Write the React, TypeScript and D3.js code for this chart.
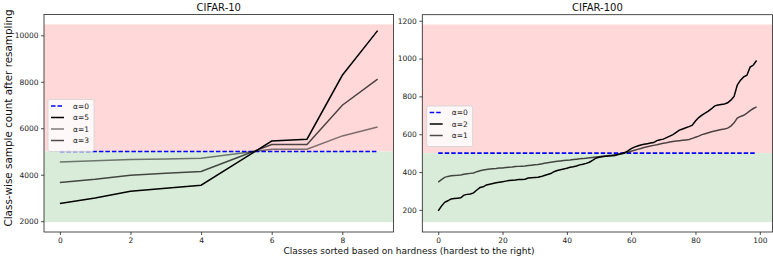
import React, { useEffect, useRef } from 'react';
import * as d3 from 'd3';

// CIFAR-10 (10 classes, sorted by hardness)
const c10Classes = [0, 1, 2, 3, 4, 5, 6, 7, 8, 9];
const c10Alpha0 = [5000, 5000, 5000, 5000, 5000, 5000, 5000, 5000, 5000, 5000];
const c10Alpha5 = [2760, 3000, 3290, 3420, 3550, 4500, 5450, 5530, 8280, 10200];
const c10Alpha1 = [4550, 4600, 4650, 4680, 4710, 4900, 5100, 5100, 5670, 6050];
const c10Alpha3 = [3660, 3800, 3980, 4060, 4140, 4720, 5300, 5300, 6990, 8110];
const c10XTicks = [0, 2, 4, 6, 8];
const c10YTicks = [2000, 4000, 6000, 8000, 10000];
const c10Bands = [1960, 5000, 10470];

// CIFAR-100 (100 classes, sorted by hardness)
const c100Alpha2 = [
  195, 220, 240, 248, 258, 260, 262, 264, 278, 282,
  284, 290, 305, 318, 322, 332, 336, 340, 343, 346,
  349, 352, 355, 357, 358, 360, 361, 362, 368, 370,
  371, 372, 376, 382, 387, 392, 402, 408, 412, 416,
  420, 425, 428, 432, 438, 441, 446, 452, 462, 473,
  478, 481, 483, 485, 486, 488, 494, 498, 503, 512,
  524, 532, 538, 543, 547, 550, 553, 556, 566, 571,
  574, 582, 590, 598, 610, 622, 628, 634, 640, 648,
  670, 688, 701, 712, 722, 735, 750, 754, 757, 760,
  766, 780, 800, 860, 886, 903, 912, 955, 966, 990,
];
const c100Alpha1 = [
  347, 360, 372, 377, 380, 382, 383, 385, 388, 391,
  393, 395, 402, 407, 411, 414, 416, 418, 419, 421,
  422, 424, 426, 427, 429, 430, 431, 432, 434, 436,
  438, 440, 443, 446, 449, 452, 455, 457, 459, 461,
  463, 464, 466, 468, 470, 471, 473, 475, 477, 479,
  481, 483, 485, 487, 489, 491, 493, 496, 500, 505,
  510, 515, 520, 525, 530, 534, 538, 541, 544, 548,
  552, 555, 559, 562, 564, 566, 568, 570, 572, 578,
  584, 590, 598, 603, 608, 613, 617, 621, 625, 628,
  632, 643, 660, 685, 694, 700, 712, 725, 736, 745,
];
const c100XTicks = [0, 20, 40, 60, 80, 100];
const c100YTicks = [200, 400, 600, 800, 1000, 1200];
const c100Bands = [135, 500, 1180];

const FONT = 'DejaVu Sans, sans-serif';

interface Series {
  label: string;
  values: number[];
  color: string;
  opacity: number;
  dashed?: boolean;
}

interface PanelSpec {
  title: string;
  left: number;
  right: number;
  top: number;
  bottom: number;
  xDomain: [number, number];
  yDomain: [number, number];
  xTicks: number[];
  yTicks: number[];
  bands: number[];
  series: Series[];
  legendX: number;
  legendY: number;
}

function drawPanel(svg: d3.Selection<SVGSVGElement, unknown, null, undefined>, p: PanelSpec) {
  const x = d3.scaleLinear().domain(p.xDomain).range([p.left, p.right]);
  const y = d3.scaleLinear().domain(p.yDomain).range([p.bottom, p.top]);
  const g = svg.append('g');

  // hardness bands
  g.append('rect')
    .attr('x', p.left).attr('width', p.right - p.left)
    .attr('y', y(p.bands[2])).attr('height', y(p.bands[1]) - y(p.bands[2]))
    .attr('fill', 'rgb(255,217,217)');
  g.append('rect')
    .attr('x', p.left).attr('width', p.right - p.left)
    .attr('y', y(p.bands[1])).attr('height', y(p.bands[0]) - y(p.bands[1]))
    .attr('fill', 'rgb(217,236,217)');

  const line = d3.line<number>().x((_, i) => x(i)).y(d => y(d));
  p.series.forEach(s => {
    g.append('path')
      .attr('d', line(s.values) as string)
      .attr('fill', 'none')
      .attr('stroke', s.color)
      .attr('stroke-opacity', s.opacity)
      .attr('stroke-width', s.dashed ? 1.7 : 1.5)
      .attr('stroke-dasharray', s.dashed ? '4.5,2' : null);
  });

  // frame
  g.append('rect')
    .attr('x', p.left).attr('y', p.top)
    .attr('width', p.right - p.left).attr('height', p.bottom - p.top)
    .attr('fill', 'none').attr('stroke', '#222').attr('stroke-width', 0.8);

  const xAxis = g.append('g')
    .attr('transform', `translate(0,${p.bottom})`)
    .call(d3.axisBottom(x).tickValues(p.xTicks).tickSize(3).tickSizeOuter(0).tickFormat(d3.format('d')));
  const yAxis = g.append('g')
    .attr('transform', `translate(${p.left},0)`)
    .call(d3.axisLeft(y).tickValues(p.yTicks).tickSize(3).tickSizeOuter(0).tickFormat(d3.format('d')));
  [xAxis, yAxis].forEach(a => {
    a.select('.domain').remove();
    a.selectAll('line').attr('stroke', '#222').attr('stroke-width', 0.8);
    a.selectAll('text').attr('fill', '#222').style('font-family', FONT).style('font-size', '7.5px');
  });
  xAxis.selectAll('text').attr('dy', '0.9em').attr('y', 4);
  yAxis.selectAll('text').attr('x', -5.5);

  svg.append('text')
    .attr('x', (p.left + p.right) / 2).attr('y', p.top - 4)
    .attr('text-anchor', 'middle')
    .style('font-family', FONT).style('font-size', '10px').attr('fill', '#111')
    .text(p.title);

  // legend
  const rowH = 11.5;
  const lg = svg.append('g').attr('transform', `translate(${p.legendX},${p.legendY})`);
  lg.append('rect')
    .attr('width', 46).attr('height', p.series.length * rowH + 6)
    .attr('rx', 2).attr('fill', 'white').attr('fill-opacity', 0.8)
    .attr('stroke', '#d0d0d0').attr('stroke-width', 0.8);
  p.series.forEach((s, i) => {
    const cy = 6.5 + i * rowH;
    lg.append('line')
      .attr('x1', 3).attr('x2', 16).attr('y1', cy).attr('y2', cy)
      .attr('stroke', s.color).attr('stroke-opacity', s.opacity).attr('stroke-width', 1.5)
      .attr('stroke-dasharray', s.dashed ? '4.5,2' : null);
    lg.append('text')
      .attr('x', 25).attr('y', cy).attr('dy', '0.35em')
      .style('font-family', FONT).style('font-size', '7.5px').attr('fill', '#222')
      .text(s.label);
  });
}

const App: React.FC = () => {
  const svgRef = useRef<SVGSVGElement>(null);

  useEffect(() => {
    document.body.style.margin = '0';
    if (!svgRef.current) return;
    const svg = d3.select(svgRef.current);
    svg.selectAll('*').remove();

    drawPanel(svg, {
      title: 'CIFAR-10',
      left: 44, right: 393.5, top: 14.5, bottom: 232,
      xDomain: [-0.45, 9.45],
      yDomain: [1535, 10895],
      xTicks: c10XTicks,
      yTicks: c10YTicks,
      bands: c10Bands,
      series: [
        { label: 'α=0', values: c10Classes.map(i => c10Alpha0[i]), color: 'blue', opacity: 1, dashed: true },
        { label: 'α=5', values: c10Alpha5, color: 'black', opacity: 1 },
        { label: 'α=1', values: c10Alpha1, color: 'black', opacity: 0.5 },
        { label: 'α=3', values: c10Alpha3, color: 'black', opacity: 0.7 },
      ],
      legendX: 48, legendY: 99.5,
    });

    drawPanel(svg, {
      title: 'CIFAR-100',
      left: 422.3, right: 772.5, top: 14.7, bottom: 232,
      xDomain: [-4.95, 103.95],
      yDomain: [83, 1232],
      xTicks: c100XTicks,
      yTicks: c100YTicks,
      bands: c100Bands,
      series: [
        { label: 'α=0', values: c100Alpha2.map(() => 500), color: 'blue', opacity: 1, dashed: true },
        { label: 'α=2', values: c100Alpha2, color: 'black', opacity: 1 },
        { label: 'α=1', values: c100Alpha1, color: 'black', opacity: 0.7 },
      ],
      legendX: 426.7, legendY: 106,
    });

    svg.append('text')
      .attr('transform', 'translate(11.5,118) rotate(-90)')
      .attr('text-anchor', 'middle')
      .style('font-family', FONT).style('font-size', '10.4px').attr('fill', '#111')
      .text('Class-wise sample count after resampling');

    svg.append('text')
      .attr('x', 409).attr('y', 253.5)
      .attr('text-anchor', 'middle')
      .style('font-family', FONT).style('font-size', '9px').attr('fill', '#111')
      .text('Classes sorted based on hardness (hardest to the right)');
  }, []);

  return <svg ref={svgRef} width={773} height={257} style={{ display: 'block' }} />;
};

export default App;
